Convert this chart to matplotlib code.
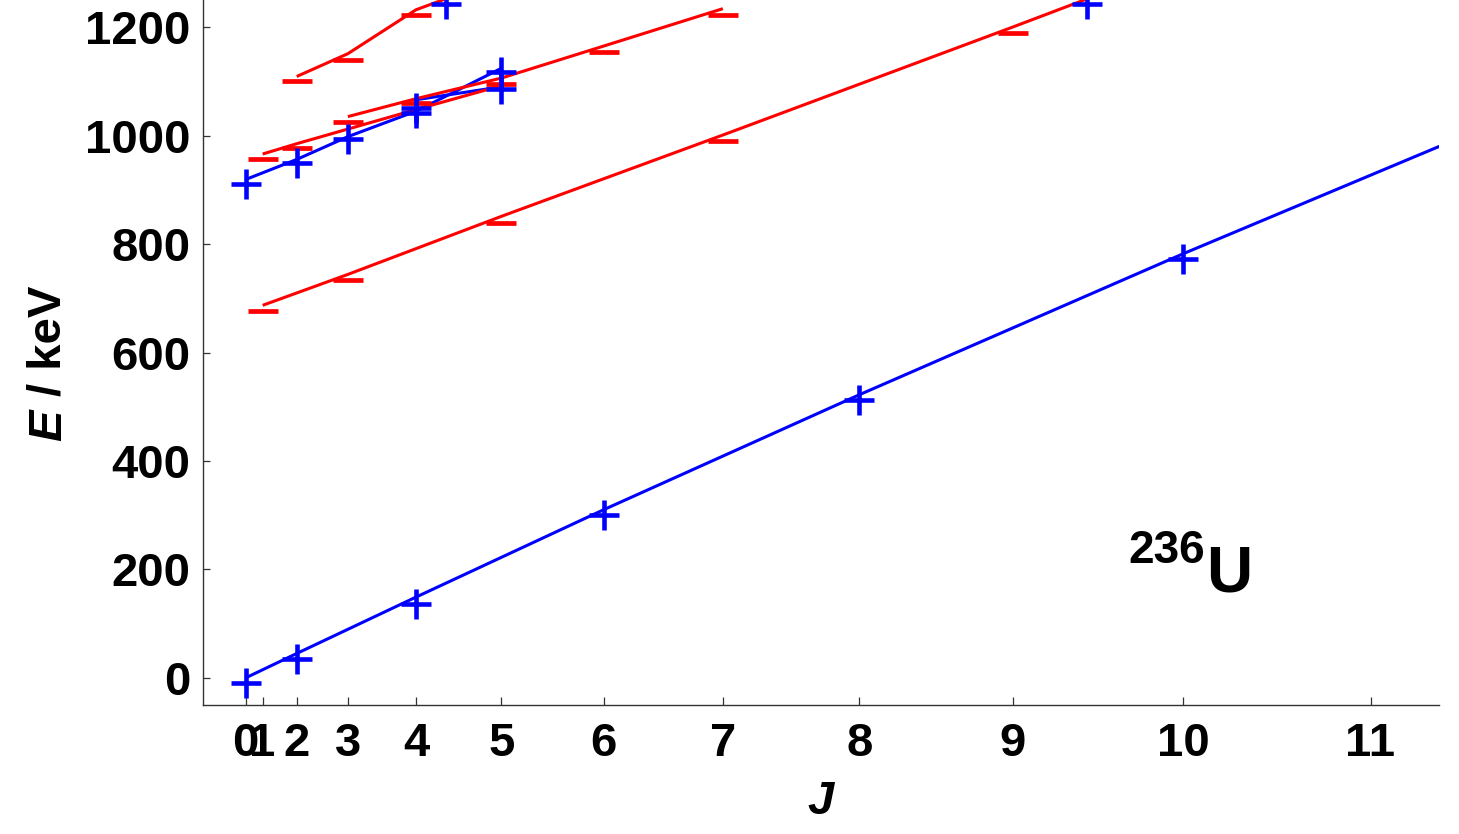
import numpy as np
import matplotlib
matplotlib.use("Agg")
import matplotlib.pyplot as plt

plt.rcParams['font.family'] = ['Liberation Sans', 'DejaVu Sans']

# ---------------- data (energies in keV, spins J) ----------------
# ground band (blue line) and its "+" markers
gs_line_J = [0, 2, 4, 6, 8, 10, 12]
gs_line_E = [0, 45, 149, 310, 522, 782, 1085]
gs_mark_J = [0, 2, 4, 6, 8, 10]
gs_mark_E = [-10, 35, 137, 301, 513, 773]

# upper positive-parity bands (blue lines)
bd_line_J = [0, 2, 3, 4, 5]
bd_line_E = [919, 956, 998, 1045, 1124]
be_line_J = [4, 5]
be_line_E = [1066, 1090]
# upper "+" markers
up_mark_J = [0, 2, 3, 4, 4, 5, 5, 4.37, 9.45]
up_mark_E = [910, 949, 993, 1051, 1042, 1117, 1085, 1242, 1242]

# negative-parity bands (red lines)
oct_line_J = [1, 3, 5, 7, 9, 11]
oct_line_E = [687, 744, 851, 1001, 1200, 1450]
ra_line_J = [1, 2, 3, 4, 5]
ra_line_E = [966, 985, 1012, 1048, 1092]
rb_line_J = [3, 4, 5, 6, 7]
rb_line_E = [1035, 1068, 1106, 1165, 1234]
rt_line_J = [2, 3, 4, 5]
rt_line_E = [1109, 1151, 1232, 1290]

# red "-" markers
red_mark_J = [1, 3, 5, 7, 9, 1, 2, 3, 4, 5, 6, 7, 2, 3, 4]
red_mark_E = [676, 733, 838, 990, 1189, 957, 977, 1025, 1060, 1096, 1154, 1223, 1101, 1140, 1223]

tick_J = list(range(0, 12))
y_ticks = [0, 200, 400, 600, 800, 1000, 1200]


def jj(J):
    J = np.asarray(J, dtype=float)
    return J * (J + 1)


BLUE = '#0000ff'
RED = '#ff0000'

fig = plt.figure(figsize=(14.59, 8.34), dpi=100)
ax = fig.add_axes([203 / 1459, 1 - 705 / 834, (1438.7 - 203) / 1459, 705 / 834])

lw = 2.2
for Js, Es in [(gs_line_J, gs_line_E), (bd_line_J, bd_line_E), (be_line_J, be_line_E)]:
    ax.plot(jj(Js), Es, color=BLUE, lw=lw, solid_capstyle='butt')
for Js, Es in [(oct_line_J, oct_line_E), (ra_line_J, ra_line_E),
               (rb_line_J, rb_line_E), (rt_line_J, rt_line_E)]:
    ax.plot(jj(Js), Es, color=RED, lw=lw, solid_capstyle='butt')

ax.plot(jj(red_mark_J), red_mark_E, ls='none', marker='_', ms=21.5, mew=3.4, color=RED)
ax.plot(jj(gs_mark_J), gs_mark_E, ls='none', marker='+', ms=21, mew=3.3, color=BLUE)
ax.plot(jj(up_mark_J), up_mark_E, ls='none', marker='+', ms=21, mew=3.3, color=BLUE)

ax.set_xlim(-5, 140)
ax.set_ylim(-50, 1250)

ax.set_xticks(jj(tick_J))
ax.set_xticklabels([str(j) for j in tick_J])
ax.set_yticks(y_ticks)
ax.set_yticklabels([str(v) for v in y_ticks])

for s in ['top', 'right']:
    ax.spines[s].set_visible(False)
for s in ['left', 'bottom']:
    ax.spines[s].set_color('#333333')
    ax.spines[s].set_linewidth(1.0)

ax.tick_params(axis='x', direction='in', length=6, width=0.9, color='#333333',
               labelsize=34, pad=12)
ax.tick_params(axis='y', direction='in', length=5, width=0.9, color='#333333',
               labelsize=34, pad=9)
for lab in ax.get_xticklabels() + ax.get_yticklabels():
    lab.set_fontweight('bold')

# y-axis label: italic E, upright "/ keV"
fig.text(0.0335, 1 - 441 / 834, 'E', rotation=90, ha='center', va='bottom',
         fontsize=34, fontweight='bold', fontstyle='italic')
fig.text(0.0335, 1 - 396 / 834, '/ keV', rotation=90, ha='center', va='bottom',
         fontsize=34, fontweight='bold')

fig.text(821 / 1459, 1 - 802 / 834, 'J', ha='center', va='center',
         fontsize=34, fontweight='bold', fontstyle='italic')

fig.text(1205 / 1459, 1 - 563 / 834, '236', ha='right', va='baseline',
         fontsize=33, fontweight='bold')
fig.text(1206 / 1459, 1 - 592 / 834, 'U', ha='left', va='baseline',
         fontsize=46, fontweight='bold')

fig.savefig('out.png', dpi=100)
